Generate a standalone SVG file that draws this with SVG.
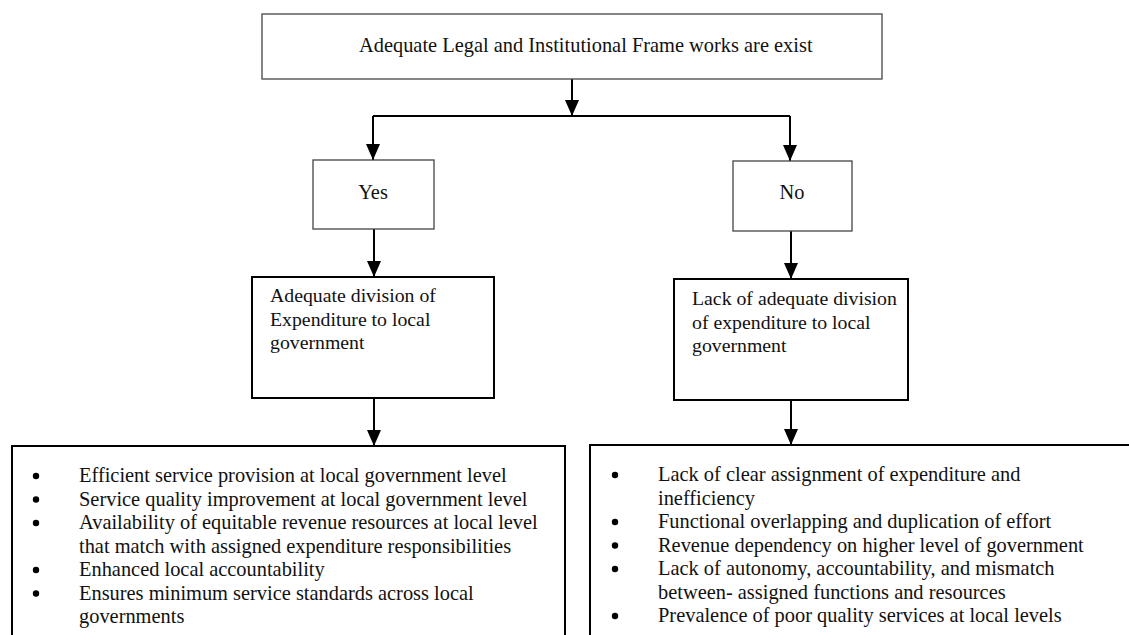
<svg xmlns="http://www.w3.org/2000/svg" width="1129" height="635" viewBox="0 0 1129 635">
<style>
  text { font-family: "Liberation Serif", "Times New Roman", serif; font-size: 20.4px; fill: #111; }
  .sm { font-size: 19.8px; }
  .thin { fill: #fff; stroke: #444; stroke-width: 1.3; }
  .mid { fill: #fff; stroke: #000; stroke-width: 2; }
  .low { fill: #fff; stroke: #000; stroke-width: 2; }
  .conn { fill: none; stroke: #000; stroke-width: 2; }
  .dot { fill: #000; }
  .c { text-anchor: middle; }
</style>
<defs>
  <marker id="arr" viewBox="0 0 16 14" refX="16" refY="7" markerWidth="16" markerHeight="14" markerUnits="userSpaceOnUse" orient="auto">
    <path d="M0,0 L16,7 L0,14 z" fill="#000"/>
  </marker>
</defs>
<rect width="1129" height="635" fill="#fff"/>

<g id="connectors">
  <path class="conn" d="M572,79 V116" marker-end="url(#arr)"/>
  <path class="conn" d="M373,116 H790"/>
  <path class="conn" d="M373,116 V160" marker-end="url(#arr)"/>
  <path class="conn" d="M790,116 V161" marker-end="url(#arr)"/>
  <path class="conn" d="M374,229 V277" marker-end="url(#arr)"/>
  <path class="conn" d="M791,231 V279" marker-end="url(#arr)"/>
  <path class="conn" d="M374,398 V446" marker-end="url(#arr)"/>
  <path class="conn" d="M791,400 V445" marker-end="url(#arr)"/>
</g>

<g id="node-top">
  <rect class="thin" x="262" y="14" width="620" height="65"/>
  <text x="359" y="52">Adequate Legal and Institutional Frame works are exist</text>
</g>

<g id="node-yes">
  <rect class="thin" x="313" y="160" width="121" height="69"/>
  <text class="c" x="373" y="199">Yes</text>
</g>

<g id="node-no">
  <rect class="thin" x="733" y="161" width="119" height="70"/>
  <text class="c" x="792" y="199">No</text>
</g>

<g id="node-adequate">
  <rect class="mid" x="252" y="277" width="242" height="121"/>
  <text class="sm" x="270" y="302">Adequate division of</text>
  <text class="sm" x="270" y="326">Expenditure to local</text>
  <text class="sm" x="270" y="349">government</text>
</g>

<g id="node-lack">
  <rect class="mid" x="674" y="279" width="234" height="121"/>
  <text class="sm" x="692" y="305">Lack of adequate division</text>
  <text class="sm" x="692" y="329">of expenditure to local</text>
  <text class="sm" x="692" y="352">government</text>
</g>

<g id="node-yes-outcomes">
  <rect class="low" x="12" y="446" width="553" height="200"/>
  <circle class="dot" cx="36" cy="476" r="3.2"/>
  <circle class="dot" cx="36" cy="499.5" r="3.2"/>
  <circle class="dot" cx="36" cy="523" r="3.2"/>
  <circle class="dot" cx="36" cy="570" r="3.2"/>
  <circle class="dot" cx="36" cy="593.5" r="3.2"/>
  <text x="79" y="482">Efficient service provision at local government level</text>
  <text x="79" y="505.5">Service quality improvement at local government level</text>
  <text x="79" y="529">Availability of equitable revenue resources at local level</text>
  <text x="79" y="552.5">that match with assigned expenditure responsibilities</text>
  <text x="79" y="576">Enhanced local accountability</text>
  <text x="79" y="599.5">Ensures minimum service standards across local</text>
  <text x="79" y="623">governments</text>
</g>

<g id="node-no-outcomes">
  <rect class="low" x="590" y="445" width="545" height="200"/>
  <circle class="dot" cx="615" cy="475" r="3.2"/>
  <circle class="dot" cx="615" cy="522" r="3.2"/>
  <circle class="dot" cx="615" cy="545.5" r="3.2"/>
  <circle class="dot" cx="615" cy="569" r="3.2"/>
  <circle class="dot" cx="615" cy="616" r="3.2"/>
  <text x="658" y="481">Lack of clear assignment of expenditure and</text>
  <text x="658" y="504.5">inefficiency</text>
  <text x="658" y="528">Functional overlapping and duplication of effort</text>
  <text x="658" y="551.5">Revenue dependency on higher level of government</text>
  <text x="658" y="575">Lack of autonomy, accountability, and mismatch</text>
  <text x="658" y="598.5">between- assigned functions and resources</text>
  <text x="658" y="622">Prevalence of poor quality services at local levels</text>
</g>
</svg>
